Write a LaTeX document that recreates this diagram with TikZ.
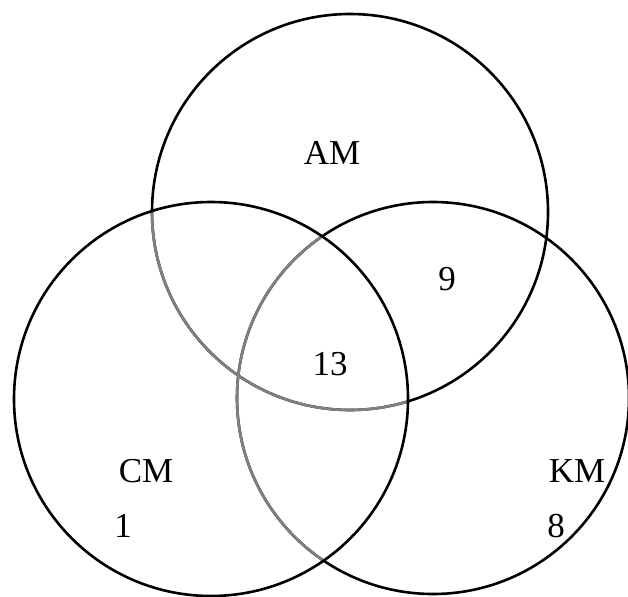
\documentclass[tikz,border=0pt]{standalone}
\usepackage{fontspec}
\setmainfont{Liberation Serif}
\begin{document}
\begin{tikzpicture}[x=1pt,y=-1pt,
  ring/.style={line width=2.6pt,draw=black},
  inner ring/.style={line width=2.6pt,draw=black!50},
  lbl/.style={inner sep=0pt,font=\fontsize{35}{40}\selectfont}]
\useasboundingbox (0,0) rectangle (628,596);
% circle centres and radii
\coordinate (am) at (350,212);
\coordinate (cm) at (211,399);
\coordinate (km) at (433,398);
\def\ramr{198}
\def\rcmr{197}
\def\rkmr{196}
% AM and KM outlines
\draw[ring] (am) circle[radius=\ramr];
\draw[ring] (km) circle[radius=\rkmr];
% the parts of AM and KM lying inside CM are lighter
\begin{scope}
  \clip (cm) circle[radius=\rcmr];
  \draw[inner ring] (am) circle[radius=\ramr];
  \draw[inner ring] (km) circle[radius=\rkmr];
\end{scope}
% CM outline
\draw[ring] (cm) circle[radius=\rcmr];
% labels and counts
\node[lbl] (amlabel) at (332,153) {AM};
\node[lbl] (cmlabel) at (146,471) {CM};
\node[lbl] (kmlabel) at (577,471) {KM};
\node[lbl] (nine) at (447,279) {9};
\node[lbl] (thirteen) at (330,364) {13};
\node[lbl] (one) at (123,526) {1};
\node[lbl] (eight) at (556,526) {8};
\end{tikzpicture}
\end{document}
